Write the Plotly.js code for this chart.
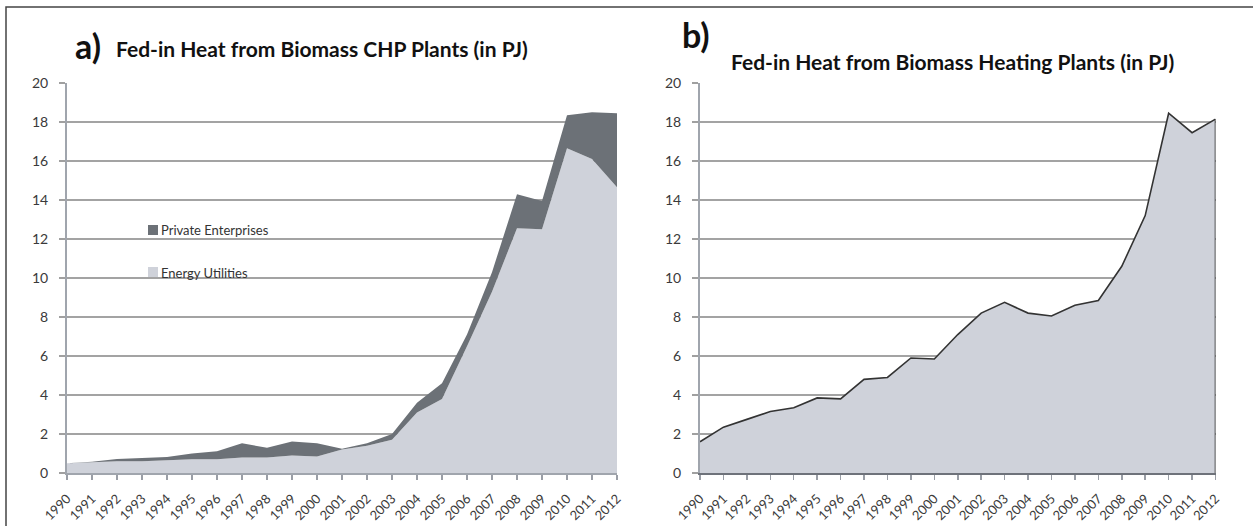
<!DOCTYPE html>
<html>
<head>
<meta charset="utf-8">
<script src="https://cdn.plot.ly/plotly-3.0.1.min.js"></script>
<style>
  html, body { margin: 0; padding: 0; background: #ffffff; }
  #chart { width: 1253px; height: 526px; }
</style>
</head>
<body>
<div id="chart"></div>
<script>
// ---- data ----
const years = [1990,1991,1992,1993,1994,1995,1996,1997,1998,1999,2000,2001,2002,2003,2004,2005,2006,2007,2008,2009,2010,2011,2012];
const yearLabels = years.map(String);

// a) Fed-in heat from biomass CHP plants (PJ), stacked
const energyUtilities    = [0.50,0.55,0.60,0.60,0.65,0.70,0.70,0.80,0.80,0.90,0.85,1.20,1.40,1.70,3.10,3.80,6.50,9.30,12.55,12.50,16.65,16.10,14.65];
const privateEnterprises = [0.00,0.03,0.12,0.17,0.17,0.30,0.42,0.72,0.50,0.72,0.67,0.05,0.12,0.30,0.50,0.80,0.60,1.00,1.75,1.45,1.70,2.40,3.80];

// b) Fed-in heat from biomass heating plants (PJ)
const heatingPlants = [1.60,2.35,2.75,3.15,3.35,3.85,3.80,4.80,4.90,5.90,5.85,7.10,8.20,8.75,8.20,8.05,8.60,8.85,10.60,13.20,18.45,17.45,18.15];

const yTicks = [0,2,4,6,8,10,12,14,16,18,20];

// ---- helpers ----
const W = 1253, H = 526;
const px = v => v / W;
const py = v => 1 - v / H;
const FONT = 'Lato, "Open Sans", sans-serif';

const cLight = '#cfd2da';
const cDark = '#6c7177';
const cGrid = '#a3a3a3';

const traces = [
  {
    x: years, y: energyUtilities, name: 'Energy Utilities',
    type: 'scatter', mode: 'lines', stackgroup: 'a',
    line: {width: 0, color: cLight}, fillcolor: cLight,
    xaxis: 'x', yaxis: 'y', showlegend: false, hoverinfo: 'x+y'
  },
  {
    x: years, y: privateEnterprises, name: 'Private Enterprises',
    type: 'scatter', mode: 'lines', stackgroup: 'a',
    line: {width: 0, color: cDark}, fillcolor: cDark,
    xaxis: 'x', yaxis: 'y', showlegend: false, hoverinfo: 'x+y'
  },
  {
    x: years, y: heatingPlants, name: 'Heating Plants',
    type: 'scatter', mode: 'lines', fill: 'tozeroy',
    line: {width: 1.6, color: '#333333'}, fillcolor: cLight,
    xaxis: 'x2', yaxis: 'y2', showlegend: false, hoverinfo: 'x+y'
  }
];

function xax(domain, lineColor) {
  return {
    domain: domain, range: [years[0], years[years.length-1]],
    tickmode: 'array', tickvals: years, ticktext: yearLabels,
    tickangle: -45, ticks: 'outside', ticklen: 5, tickwidth: 1.5, tickcolor: '#9a9ea6',
    ticklabelstandoff: 6,
    showline: true, linecolor: lineColor, linewidth: 2,
    showgrid: false, zeroline: false,
    tickfont: {family: FONT, size: 13, color: '#3a3a3a'}
  };
}
function yax(domain, anchor) {
  return {
    domain: domain, range: [0, 20], anchor: anchor,
    tickmode: 'array', tickvals: yTicks,
    ticks: 'outside', ticklen: 6, tickwidth: 1.5, tickcolor: '#a0a0a0',
    ticklabelstandoff: 8,
    showgrid: true, gridcolor: cGrid, gridwidth: 2,
    showline: true, linecolor: '#a0a5ad', linewidth: 2,
    zeroline: false,
    tickfont: {family: FONT, size: 14, color: '#3a3a3a'}
  };
}

const yDom = [py(473), py(83)];

const layout = {
  width: W, height: H,
  margin: {l: 0, r: 0, t: 0, b: 0},
  paper_bgcolor: '#ffffff', plot_bgcolor: 'rgba(0,0,0,0)',
  showlegend: false,
  font: {family: FONT},
  xaxis: Object.assign(xax([px(67), px(617)], '#a0a5ad'), {anchor: 'y'}),
  yaxis: yax(yDom, 'x'),
  xaxis2: Object.assign(xax([px(700), px(1215.5)], '#6e727a'), {anchor: 'y2'}),
  yaxis2: yax(yDom, 'x2'),
  shapes: [
    // outer frame (top and left visible)
    {type: 'rect', xref: 'paper', yref: 'paper', x0: px(6), x1: px(1300), y0: py(7), y1: py(560),
     line: {color: '#444', width: 1.5}, fillcolor: 'rgba(0,0,0,0)', layer: 'above'},
    // legend squares
    {type: 'rect', xref: 'paper', yref: 'paper', x0: px(148), x1: px(158), y0: py(225), y1: py(235),
     line: {width: 0}, fillcolor: cDark},
    {type: 'rect', xref: 'paper', yref: 'paper', x0: px(148), x1: px(158), y0: py(267), y1: py(277),
     line: {width: 0}, fillcolor: cLight},
    // right edge of area b
    {type: 'line', xref: 'x2', yref: 'y2', x0: years[years.length-1], x1: years[years.length-1],
     y0: 0, y1: heatingPlants[heatingPlants.length-1], line: {color: '#333', width: 1.6}, layer: 'above'}
  ],
  annotations: [
    {text: '<b>a)</b>', xref: 'paper', yref: 'paper', x: px(73), y: py(46), xanchor: 'left', yanchor: 'middle',
     showarrow: false, font: {family: FONT, size: 34, color: '#111'}},
    {text: '<b>Fed-in Heat from Biomass CHP Plants (in PJ)</b>', xref: 'paper', yref: 'paper', x: px(114), y: py(49),
     xanchor: 'left', yanchor: 'middle', showarrow: false, font: {family: FONT, size: 21, color: '#111'}},
    {text: '<b>b)</b>', xref: 'paper', yref: 'paper', x: px(680), y: py(35), xanchor: 'left', yanchor: 'middle',
     showarrow: false, font: {family: FONT, size: 34, color: '#111'}},
    {text: '<b>Fed-in Heat from Biomass Heating Plants (in PJ)</b>', xref: 'paper', yref: 'paper', x: px(729), y: py(61),
     xanchor: 'left', yanchor: 'middle', showarrow: false, font: {family: FONT, size: 21, color: '#111'}},
    {text: 'Private Enterprises', xref: 'paper', yref: 'paper', x: px(159), y: py(230), xanchor: 'left', yanchor: 'middle',
     showarrow: false, font: {family: FONT, size: 13, color: '#333'}},
    {text: 'Energy Utilities', xref: 'paper', yref: 'paper', x: px(159), y: py(273), xanchor: 'left', yanchor: 'middle',
     showarrow: false, font: {family: FONT, size: 13, color: '#333'}}
  ]
};

Plotly.newPlot('chart', traces, layout, {staticPlot: true, displayModeBar: false});
</script>
</body>
</html>
